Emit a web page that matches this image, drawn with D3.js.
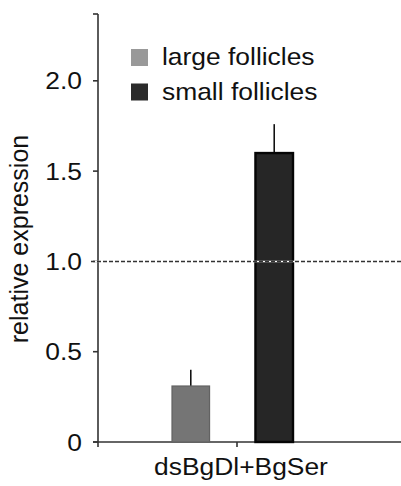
<!doctype html>
<html>
<head>
	<meta charset="utf-8">
	<title>relative expression</title>
	<script src="https://cdnjs.cloudflare.com/ajax/libs/d3/7.8.5/d3.min.js"></script>
	<style>
		body { margin: 0; background: #fff; }
		text { font-family: "Liberation Sans", Arial, sans-serif; fill: #111; }
	</style>
</head>
<body>
	<script>
		// data
		var categories = ['dsBgDl+BgSer'];
		var series = ['large follicles', 'small follicles'];
		var means = [0.31, 1.60];
		var errors = [0.09, 0.16];
		var yTicks = [0, 0.5, 1.0, 1.5, 2.0];
		var yTickLabels = ['0', '0.5', '1.0', '1.5', '2.0'];
		var reference = 1.0;

		var barFill = ['#757575', '#262626'];
		var barStroke = ['#626262', '#050505'];
		var keyFill = ['#999999', '#2b2b2b'];

		var W = 401, H = 486;
		var x0 = 98, yBase = 442;

		var svg = d3.select('body').append('svg')
			.attr('width', W)
			.attr('height', H);

		var y = d3.scaleLinear().domain([0, 2.37]).range([yBase, 14]);
		var x = d3.scaleBand().domain(categories).range([x0, 376]);
		var xSub = d3.scaleBand().domain(series).range([74, 195]).paddingInner(0.55);

		// y axis line (runs a bit below zero) and ticks
		svg.append('line')
			.attr('x1', x0).attr('x2', x0)
			.attr('y1', y(2.37)).attr('y2', yBase + 5)
			.attr('stroke', '#333').attr('stroke-width', 1.6);
		svg.append('line')
			.attr('x1', x0 - 5).attr('x2', x0)
			.attr('y1', y(2.37)).attr('y2', y(2.37))
			.attr('stroke', '#333').attr('stroke-width', 1.6);

		var yt = svg.selectAll('.ytick').data(yTicks).enter().append('g');
		yt.append('line')
			.attr('x1', x0 - 5).attr('x2', x0)
			.attr('y1', function(d) { return y(d); })
			.attr('y2', function(d) { return y(d); })
			.attr('stroke', '#333').attr('stroke-width', 1.6);
		yt.append('text')
			.attr('transform', function(d) { return 'translate(82,' + (y(d) + 8.5) + ') scale(1.1,1)'; })
			.attr('text-anchor', 'end')
			.attr('font-size', 24)
			.text(function(d, i) { return yTickLabels[i]; });

		// x axis
		svg.append('line')
			.attr('x1', x0 - 5).attr('x2', W)
			.attr('y1', yBase).attr('y2', yBase)
			.attr('stroke', '#333').attr('stroke-width', 1.6);
		categories.forEach(function(c) {
			var cx = x(c) + x.bandwidth() / 2;
			svg.append('line')
				.attr('x1', cx).attr('x2', cx)
				.attr('y1', yBase).attr('y2', yBase + 5)
				.attr('stroke', '#333').attr('stroke-width', 1.6);
			svg.append('text')
				.attr('transform', 'translate(' + (cx + 4) + ',475) scale(1.1,1)')
				.attr('text-anchor', 'middle')
				.attr('font-size', 24)
				.text(c);
		});

		// bars
		var g = svg.append('g').attr('transform', 'translate(' + x(categories[0]) + ',0)');
		series.forEach(function(s, i) {
			var bx = xSub(s), bw = xSub.bandwidth();
			g.append('line')
				.attr('x1', bx + bw / 2).attr('x2', bx + bw / 2)
				.attr('y1', y(means[i])).attr('y2', y(means[i] + errors[i]))
				.attr('stroke', '#111').attr('stroke-width', 1.6);
			g.append('rect')
				.attr('x', bx).attr('y', y(means[i]))
				.attr('width', bw).attr('height', yBase - y(means[i]))
				.attr('fill', barFill[i])
				.attr('stroke', barStroke[i])
				.attr('stroke-width', i === 0 ? 1.2 : 2.4);
		});

		// reference line at 1.0
		svg.append('line')
			.attr('x1', x0 - 7).attr('x2', W)
			.attr('y1', y(reference)).attr('y2', y(reference))
			.attr('stroke', '#fff').attr('stroke-width', 1.5);
		svg.append('line')
			.attr('x1', x0 - 7).attr('x2', W)
			.attr('y1', y(reference)).attr('y2', y(reference))
			.attr('stroke', '#333').attr('stroke-width', 1.5)
			.attr('stroke-dasharray', '4,2');

		// legend
		var legendY = [49, 83.5];
		series.forEach(function(s, i) {
			svg.append('rect')
				.attr('x', 131).attr('y', legendY[i])
				.attr('width', 17).attr('height', 17)
				.attr('fill', keyFill[i]);
			svg.append('text')
				.attr('transform', 'translate(162,' + (legendY[i] + 16) + ') scale(1.1,1)')
				.attr('font-size', 24)
				.text(s);
		});

		// y label
		svg.append('text')
			.attr('transform', 'translate(28,239) rotate(-90)')
			.attr('text-anchor', 'middle')
			.attr('font-size', 25)
			.text('relative expression');
	</script>
</body>
</html>
